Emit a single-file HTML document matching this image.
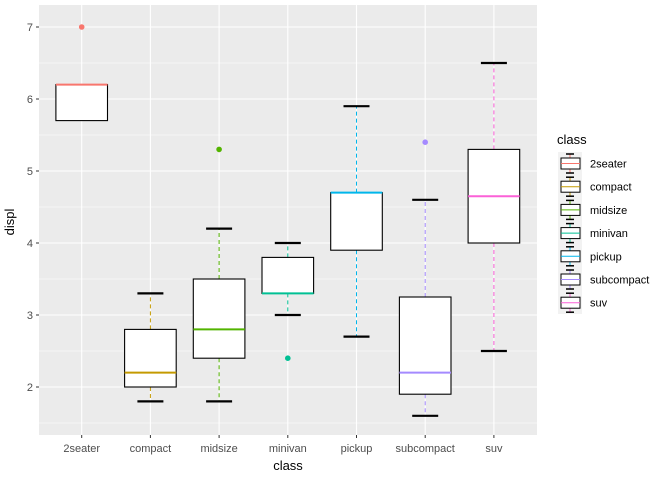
<!DOCTYPE html>
<html><head><meta charset="utf-8"><style>body{margin:0;background:#fff}svg{font-family:"Liberation Sans",Arial,sans-serif}</style></head>
<body>
<svg id="chart" width="672" height="480">
<rect x="39" y="5" width="498" height="430" fill="#EBEBEB"/>
<g id="grid"></g><g id="marks"></g><g id="axes"></g>
<text x="14" y="222" transform="rotate(-90 14 222)" text-anchor="middle" font-size="13" fill="#000">displ</text>
<text x="288" y="470" text-anchor="middle" font-size="13" fill="#000">class</text>
<text x="557" y="144" font-size="13" fill="#000">class</text>
<g id="legend"></g>
</svg>
<script>
const categories=["2seater","compact","midsize","minivan","pickup","subcompact","suv"];
const colors=["#F8766D","#C49A00","#53B400","#00C094","#00B6EB","#A58AFF","#FB61D7"];
const lowerWhisker=[5.7,1.8,1.8,3.0,2.7,1.6,2.5];
const q1=[5.7,2.0,2.4,3.3,3.9,1.9,4.0];
const median=[6.2,2.2,2.8,3.3,4.7,2.2,4.65];
const q3=[6.2,2.8,3.5,3.8,4.7,3.25,5.3];
const upperWhisker=[6.2,3.3,4.2,4.0,5.9,4.6,6.5];
const outlierCat=[0,2,3,5];
const outlierVal=[7.0,5.3,2.4,5.4];
const yTicks=[2,3,4,5,6,7];
const NS="http://www.w3.org/2000/svg";
const X=i=>81.7+68.7*i, Y=v=>387-(v-2)*72;
function mk(p,t,a){const e=document.createElementNS(NS,t);for(const k in a)e.setAttribute(k,a[k]);document.getElementById(p).appendChild(e);return e;}
for(let v=1.5;v<=7;v+=1){const e=mk('grid','line',{x1:39,x2:537,y1:Y(v),y2:Y(v),stroke:'#fff','stroke-width':0.5});

}
yTicks.forEach(v=>{const e=mk('grid','line',{x1:39,x2:537,y1:Y(v),y2:Y(v),stroke:'#fff','stroke-width':1.1});


const t=mk('axes','text',{x:33,y:Y(v)+4,'text-anchor':'end','font-size':11,fill:'#4D4D4D'});t.textContent=v;


mk('axes','line',{x1:36,x2:39,y1:Y(v),y2:Y(v),stroke:'#333'});});
categories.forEach((c,i)=>{const x=X(i);
const g=mk('grid','line',{x1:x,x2:x,y1:5,y2:435,stroke:'#fff','stroke-width':1.1});


mk('axes','line',{x1:x,x2:x,y1:435,y2:438,stroke:'#333'});
const t=mk('axes','text',{x:x,y:452,'text-anchor':'middle','font-size':11,fill:'#4D4D4D'});t.textContent=c;


const col=colors[i],w=25.8,h=13;
if(upperWhisker[i]>q3[i]){const l=mk('marks','line',{x1:x,x2:x,y1:Y(q3[i]),y2:Y(upperWhisker[i]),stroke:col,'stroke-dasharray':'4 3'});


const cp=mk('marks','line',{x1:x-h,x2:x+h,y1:Y(upperWhisker[i]),y2:Y(upperWhisker[i]),stroke:'#000','stroke-width':2.2});

}
if(lowerWhisker[i]<q1[i]){const l=mk('marks','line',{x1:x,x2:x,y1:Y(q1[i]),y2:Y(lowerWhisker[i]),stroke:col,'stroke-dasharray':'4 3'});


const cp=mk('marks','line',{x1:x-h,x2:x+h,y1:Y(lowerWhisker[i]),y2:Y(lowerWhisker[i]),stroke:'#000','stroke-width':2.2});

}
const b=mk('marks','rect',{x:x-w,y:Y(q3[i]),width:2*w,height:Y(q1[i])-Y(q3[i]),fill:'#fff',stroke:'#000','stroke-width':1.1});


const m=mk('marks','line',{x1:x-w,x2:x+w,y1:Y(median[i]),y2:Y(median[i]),stroke:col,'stroke-width':2});


});
outlierCat.forEach((ci,k)=>{const o=mk('marks','circle',{cx:X(ci),cy:Y(outlierVal[k]),r:2.8,fill:colors[ci]});

});
mk('legend','rect',{x:558,y:152,width:24,height:162,fill:'#F2F2F2'});
categories.forEach((c,i)=>{const cy=163.5+23.2*i,col=colors[i];
const g=mk('legend','g',{});


mk('legend','line',{x1:570,x2:570,y1:cy-10,y2:cy+10,stroke:col});
mk('legend','line',{x1:566,x2:574,y1:cy-9.5,y2:cy-9.5,stroke:'#000','stroke-width':1.5});
mk('legend','line',{x1:566,x2:574,y1:cy+9.5,y2:cy+9.5,stroke:'#000','stroke-width':1.5});
mk('legend','rect',{x:561,y:cy-5.5,width:19,height:11,fill:'#fff',stroke:'#000'});
mk('legend','line',{x1:561,x2:580,y1:cy,y2:cy,stroke:col});
const t=mk('legend','text',{x:590,y:cy+4,'font-size':11,fill:'#000'});t.textContent=c;

});
</script>
</body></html>
